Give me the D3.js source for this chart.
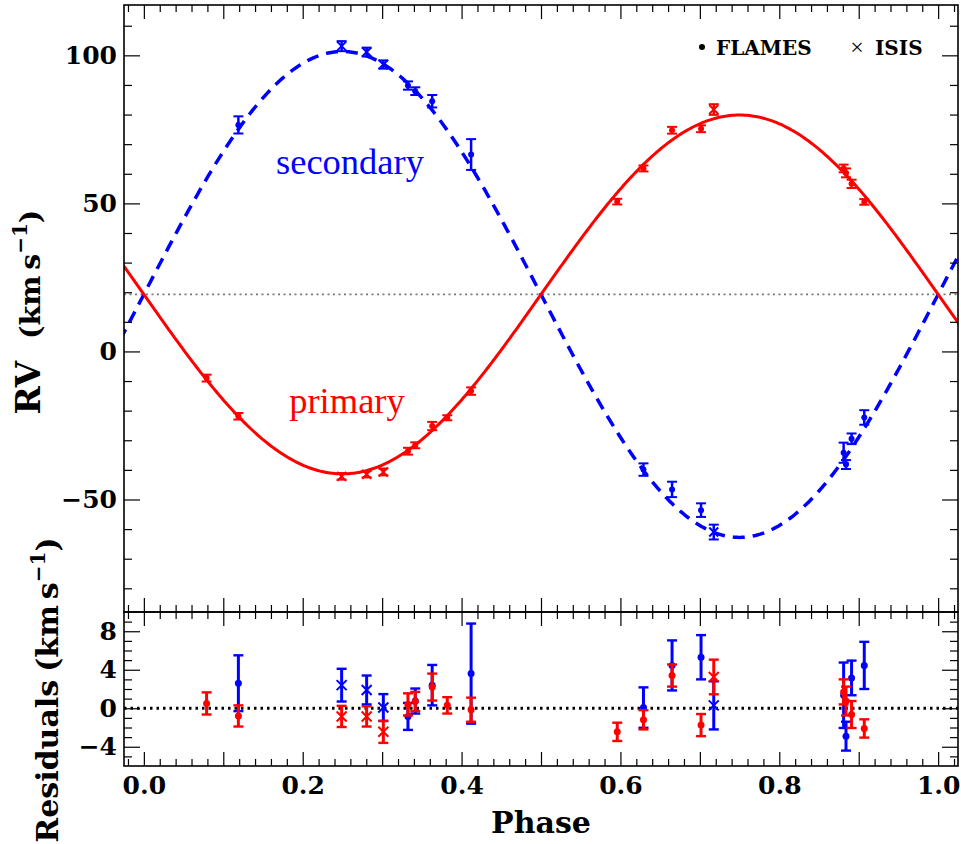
<!DOCTYPE html>
<html>
<head>
<meta charset="utf-8">
<script src="https://cdn.jsdelivr.net/npm/d3@7"></script>
<style>
  body { margin: 0; background: #fff; }
</style>
</head>
<body>
<div id="chart"></div>
<script>

// observations: phase, instrument (F = FLAMES, I = ISIS)
var phase = [0.079, 0.119, 0.249, 0.2805, 0.3015, 0.3325, 0.3417, 0.363, 0.382, 0.412,
             0.596, 0.629, 0.665, 0.7015, 0.7175, 0.881, 0.884, 0.891, 0.907];
var inst  = ["F", "F", "I", "I", "I", "F", "F", "F", "F", "F",
             "F", "F", "F", "F", "I", "F", "F", "F", "F"];

// primary RVs, errors and residuals (km/s)
var rv1  = [-9.0, -21.9, -42.2, -41.5, -40.7, -33.7, -31.7, -25.2, -22.4, -13.4,
            50.6, 61.8, 74.7, 75.2, 81.7, 61.8, 60.3, 56.6, 50.5];
var err1 = [1.15, 1.1, 1.1, 1.05, 1.15, 1.15, 1.0, 1.4, 0.85, 1.25,
            0.95, 1.0, 1.15, 1.15, 1.8, 1.3, 1.5, 1.4, 0.95];
var res1 = [0.5, -0.8, -0.85, -0.85, -2.45, 0.4, 0.7, 2.2, 0.3, -0.15,
            -2.45, -1.2, 3.4, -1.75, 3.25, 1.7, 0.75, -0.65, -2.1];

// secondary RVs, errors and residuals (km/s), null where not measured
var rv2  = [null, 76.5, 103.1, 101.1, 96.9, 89.8, 87.9, 84.5, null, 66.5,
            null, -39.9, -46.6, -53.6, -61.0, -34.2, -38.2, -29.5, -22.3];
var err2 = [null, 2.9, 1.7, 1.5, 1.4, 1.4, 1.3, 2.1, null, 5.2,
            null, 2.1, 2.6, 2.3, 2.5, 3.4, 1.5, 1.8, 2.45];
var res2 = [null, 2.6, 2.4, 1.9, 0.07, -0.85, 0.75, 2.4, null, 3.6,
            null, 0.07, 4.45, 5.3, 0.3, 1.35, -2.9, 3.15, 4.45];

// orbit fit (circular)
var gamma = 19.25, K1 = 60.6, K2 = 82.05;

var xLabels = [0, 0.2, 0.4, 0.6, 0.8, 1.0];
var xMajor  = [0, 0.1, 0.2, 0.3, 0.4, 0.5, 0.6, 0.7, 0.8, 0.9, 1.0];
var yLabels = [-50, 0, 50, 100];
var rLabels = [-4, 0, 4, 8];

var red = "#ff0000", blue = "#0000ff";
var bold = "DejaVu Serif", roman = "Liberation Serif";

var width = 961, height = 844;

var x = d3.scaleLinear().domain([-0.025, 1.025]).range([124, 958]);
var y = d3.scaleLinear().domain([-88, 117]).range([612, 5]);
var yr = d3.scaleLinear().domain([-6, 10]).range([766, 612]);

var xMinor = d3.range(-0.02, 1.03, 0.02).filter(function(d) {
  return Math.abs(d * 10 - Math.round(d * 10)) > 0.01;
});
var yMinor = d3.range(-80, 111, 10).filter(function(d) { return d % 50 !== 0; });
var rMinor = d3.range(-5, 10, 1).filter(function(d) { return d % 4 !== 0; });

var svg = d3.select("#chart").append("svg")
  .attr("width", width)
  .attr("height", height);

function model1(p) { return gamma - K1 * Math.sin(2 * Math.PI * p); }
function model2(p) { return gamma + K2 * Math.sin(2 * Math.PI * p); }

// ticks on all four sides of a panel
function frameTicks(ys, yMaj, yMin, labelsX, yFmt) {
  var top = ys.range()[1], bot = ys.range()[0];
  var l = x.range()[0], r = x.range()[1];

  svg.append("g").attr("transform", "translate(0," + top + ")")
    .call(d3.axisTop(x).tickValues(xMajor).tickSize(-14).tickFormat(""));
  svg.append("g").attr("transform", "translate(0," + top + ")")
    .call(d3.axisTop(x).tickValues(xMinor).tickSize(-7).tickFormat(""));

  svg.append("g").attr("transform", "translate(0," + bot + ")")
    .call(d3.axisBottom(x).tickValues(xMajor).tickSize(-14).tickPadding(10)
      .tickFormat(function(d) { return labelsX && xLabels.indexOf(d) >= 0 ? d.toFixed(1) : ""; }));
  svg.append("g").attr("transform", "translate(0," + bot + ")")
    .call(d3.axisBottom(x).tickValues(xMinor).tickSize(-7).tickFormat(""));

  svg.append("g").attr("transform", "translate(" + l + ",0)")
    .call(d3.axisLeft(ys).tickValues(yMaj).tickSize(-16).tickPadding(7).tickFormat(yFmt));
  svg.append("g").attr("transform", "translate(" + l + ",0)")
    .call(d3.axisLeft(ys).tickValues(yMin).tickSize(-8).tickFormat(""));

  svg.append("g").attr("transform", "translate(" + r + ",0)")
    .call(d3.axisRight(ys).tickValues(yMaj).tickSize(-16).tickFormat(""));
  svg.append("g").attr("transform", "translate(" + r + ",0)")
    .call(d3.axisRight(ys).tickValues(yMin).tickSize(-8).tickFormat(""));

  svg.append("rect")
    .attr("x", l).attr("y", top)
    .attr("width", r - l).attr("height", bot - top)
    .attr("fill", "none").attr("stroke", "#000").attr("stroke-width", 1.6);
}

function errbar(g, cx, cy, lo, hi, color, cap, sw) {
  g.append("line").attr("x1", cx).attr("x2", cx).attr("y1", lo).attr("y2", hi)
    .attr("stroke", color).attr("stroke-width", sw);
  [lo, hi].forEach(function(v) {
    g.append("line").attr("x1", cx - cap).attr("x2", cx + cap).attr("y1", v).attr("y2", v)
      .attr("stroke", color).attr("stroke-width", sw * 0.8);
  });
}

function marker(g, cx, cy, kind, color, r) {
  if (kind === "F") {
    g.append("circle").attr("cx", cx).attr("cy", cy).attr("r", r).attr("fill", color);
  } else {
    var s = r + 1.5;
    g.append("path")
      .attr("d", "M" + (cx - s) + "," + (cy - s) + "L" + (cx + s) + "," + (cy + s) +
                 "M" + (cx - s) + "," + (cy + s) + "L" + (cx + s) + "," + (cy - s))
      .attr("stroke", color).attr("stroke-width", 2).attr("fill", "none");
  }
}

// clip
svg.append("clipPath").attr("id", "clipTop").append("rect")
  .attr("x", 124).attr("y", 5).attr("width", 834).attr("height", 607);

// ---------- top panel ----------
var topG = svg.append("g").attr("clip-path", "url(#clipTop)");

topG.append("line")
  .attr("x1", x.range()[0]).attr("x2", x.range()[1])
  .attr("y1", y(gamma)).attr("y2", y(gamma))
  .attr("stroke", "#777").attr("stroke-width", 1.8).attr("stroke-dasharray", "2,3.5");

var grid = d3.range(-0.03, 1.031, 0.002);
var line = d3.line().x(function(d) { return x(d[0]); }).y(function(d) { return y(d[1]); });

topG.append("path")
  .datum(grid.map(function(p) { return [p, model2(p)]; }))
  .attr("d", line).attr("fill", "none").attr("stroke", blue)
  .attr("stroke-width", 3.5).attr("stroke-dasharray", "12,8");

topG.append("path")
  .datum(grid.map(function(p) { return [p, model1(p)]; }))
  .attr("d", line).attr("fill", "none").attr("stroke", red)
  .attr("stroke-width", 3);

var pts = topG.append("g");
phase.forEach(function(p, i) {
  if (rv2[i] !== null) {
    errbar(pts, x(p), y(rv2[i]), y(rv2[i] - err2[i]), y(rv2[i] + err2[i]), blue, 5, 2.5);
    marker(pts, x(p), y(rv2[i]), inst[i], blue, 3);
  }
});
phase.forEach(function(p, i) {
  errbar(pts, x(p), y(rv1[i]), y(rv1[i] - err1[i]), y(rv1[i] + err1[i]), red, 5, 2.5);
  marker(pts, x(p), y(rv1[i]), inst[i], red, 3);
});

frameTicks(y, yLabels, yMinor, false, function(d) { return d < 0 ? "\u2212" + (-d) : d; });

// component labels
svg.append("text").attr("x", 350).attr("y", 174)
  .attr("text-anchor", "middle").attr("font-family", roman).attr("font-size", 36.5)
  .attr("fill", blue).text("secondary");
svg.append("text").attr("x", 347).attr("y", 413)
  .attr("text-anchor", "middle").attr("font-family", roman).attr("font-size", 36.5)
  .attr("fill", red).text("primary");

// legend
svg.append("circle").attr("cx", 702).attr("cy", 47).attr("r", 3).attr("fill", "#000");
svg.append("text").attr("x", 716).attr("y", 54.5)
  .attr("font-family", bold).attr("font-weight", "bold").attr("font-size", 20)
  .text("FLAMES");
svg.append("text").attr("x", 857).attr("y", 54.5).attr("text-anchor", "middle")
  .attr("font-family", roman).attr("font-size", 24).text("\u00d7");
svg.append("text").attr("x", 875).attr("y", 54.5)
  .attr("font-family", bold).attr("font-weight", "bold").attr("font-size", 20)
  .text("ISIS");

// ---------- residual panel ----------
var resG = svg.append("g");
resG.append("line")
  .attr("x1", x.range()[0]).attr("x2", x.range()[1])
  .attr("y1", yr(0)).attr("y2", yr(0))
  .attr("stroke", "#000").attr("stroke-width", 3).attr("stroke-dasharray", "2.5,4");

phase.forEach(function(p, i) {
  if (res2[i] !== null) {
    errbar(resG, x(p), yr(res2[i]), yr(res2[i] - err2[i]), yr(res2[i] + err2[i]), blue, 5, 3);
    marker(resG, x(p), yr(res2[i]), inst[i], blue, 3.5);
  }
});
phase.forEach(function(p, i) {
  errbar(resG, x(p), yr(res1[i]), yr(res1[i] - err1[i]), yr(res1[i] + err1[i]), red, 5, 3);
  marker(resG, x(p), yr(res1[i]), inst[i], red, 3.5);
});

frameTicks(yr, rLabels, rMinor, true, function(d) { return d < 0 ? "\u2212" + (-d) : d; });

// style tick labels
svg.selectAll(".tick text")
  .attr("font-family", bold).attr("font-weight", "bold").attr("font-size", 25).attr("fill", "#000");
svg.selectAll(".domain").remove();
svg.selectAll(".tick line").attr("stroke", "#000").attr("stroke-width", 1.2);

// axis titles
svg.append("text").attr("x", 541).attr("y", 833)
  .attr("text-anchor", "middle").attr("font-family", bold).attr("font-weight", "bold")
  .attr("font-size", 30).text("Phase");

function ylabel(txt, tx, ty, lead, gap, size) {
  var t = svg.append("text")
    .attr("transform", "translate(" + tx + "," + ty + ")rotate(-90)")
    .attr("text-anchor", "middle").attr("font-family", bold).attr("font-weight", "bold")
    .attr("font-size", size);
  t.append("tspan").attr("font-size", lead).text(txt);
  t.append("tspan").attr("dx", gap).text("(km\u2009s");
  t.append("tspan").attr("dy", -13).attr("font-size", 20).text("\u22121");
  t.append("tspan").attr("dy", 13).text(")");
}
ylabel("RV", 40, 312, 34, 22, 28.5);
ylabel("Residuals", 58, 690, 30, 8, 30);

</script>
</body>
</html>
